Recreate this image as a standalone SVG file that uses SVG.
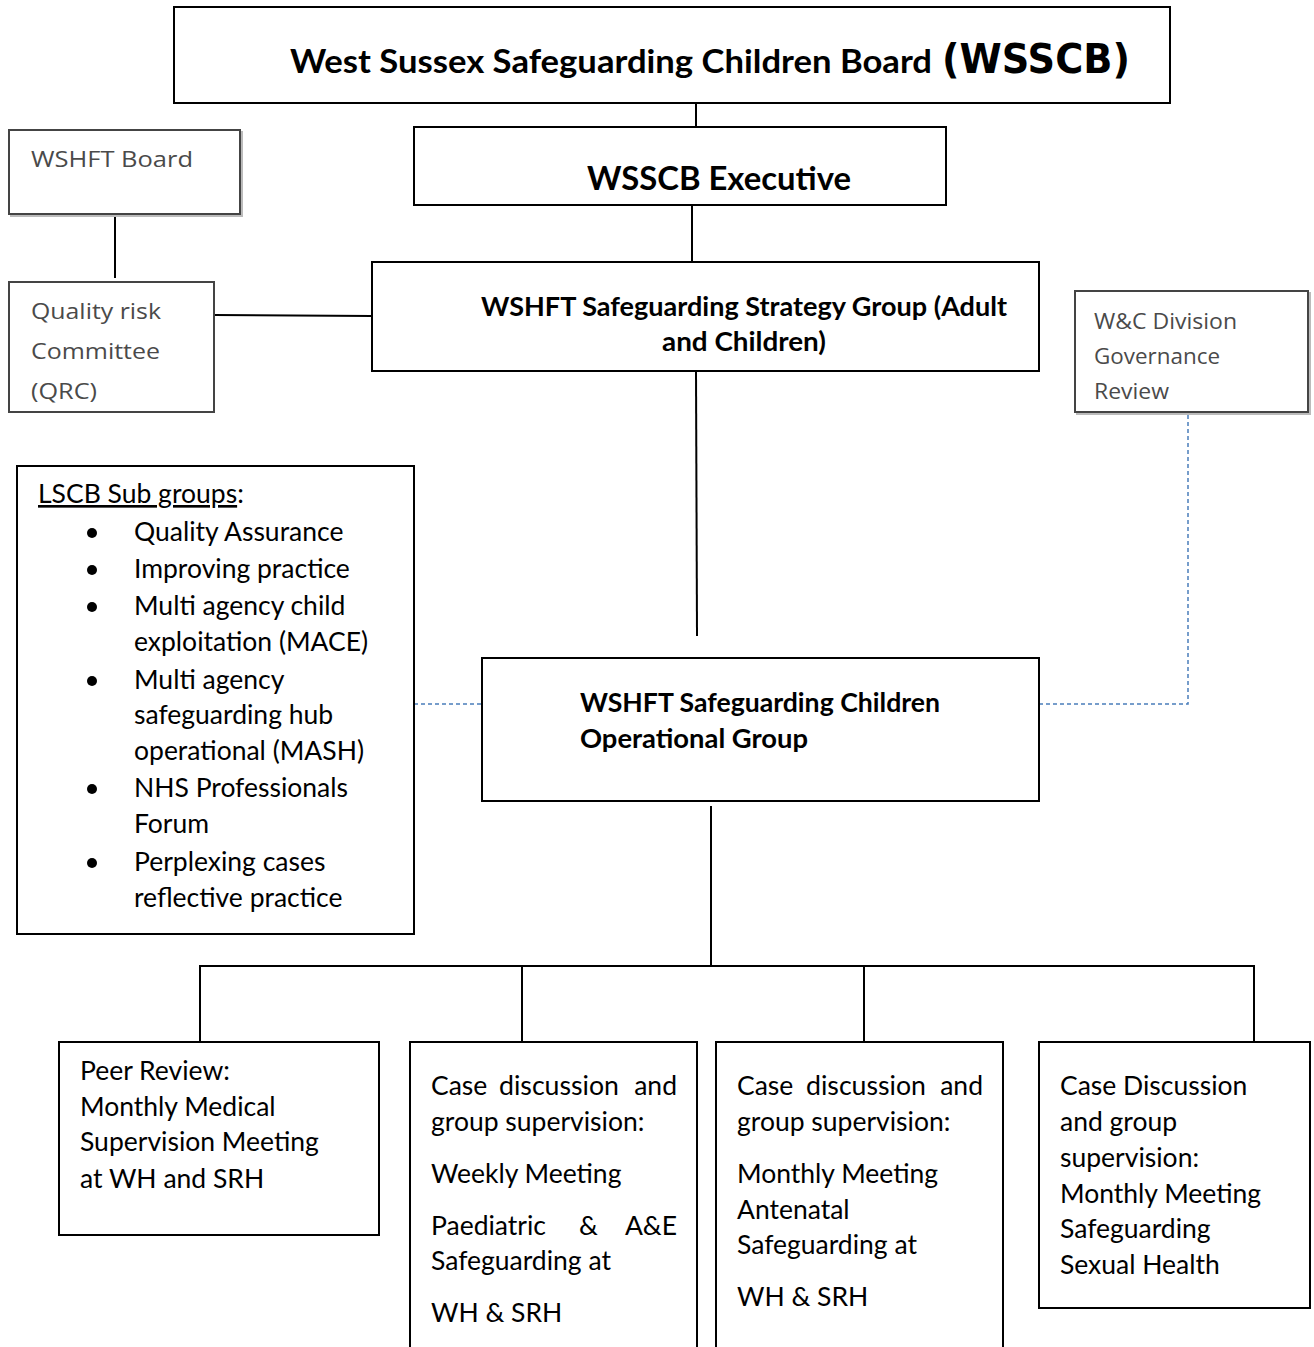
<svg xmlns="http://www.w3.org/2000/svg" width="1314" height="1347" viewBox="0 0 1314 1347">
  <style>
    .box { fill: #fff; stroke: #000; stroke-width: 2; }
    .gbox { fill: #fff; stroke: #444; stroke-width: 2; }
    .shadow { fill: none; stroke: #bbb; stroke-width: 2; }
    .line { stroke: #000; stroke-width: 2; fill: none; }
    .dash { stroke: #4a7ebb; stroke-width: 1.5; fill: none; stroke-dasharray: 4 3; }
    .t { font-family: Lato, "Open Sans", "Liberation Sans", sans-serif; font-size: 26.5px; fill: #000; }
    .b { font-family: Lato, "Open Sans", "Liberation Sans", sans-serif; font-weight: bold; fill: #000; }
    .g { font-family: "Open Sans", "Noto Sans", "Liberation Sans", sans-serif; font-size: 22px; fill: #4a4a4a; }
  </style>

  <!-- connectors -->
  <g id="connectors">
    <line class="line" x1="696" y1="88" x2="696" y2="128"/>
    <line class="line" x1="692" y1="205" x2="692" y2="264"/>
    <line class="line" x1="115" y1="217" x2="115" y2="278"/>
    <line class="line" x1="214" y1="315" x2="372" y2="316"/>
    <line class="line" x1="696" y1="371" x2="697" y2="636"/>
    <line class="line" x1="711" y1="806" x2="711" y2="966"/>
    <polyline class="line" points="200,1042 200,966 1254,966 1254,1042"/>
    <line class="line" x1="522" y1="966" x2="522" y2="1042"/>
    <line class="line" x1="864" y1="966" x2="864" y2="1042"/>
    <line class="dash" x1="414" y1="704" x2="482" y2="704"/>
    <polyline class="dash" points="1188,415 1188,704 1040,704"/>
  </g>

  <!-- top board -->
  <g id="wsscb">
    <rect class="box" x="174" y="7" width="996" height="96"/>
    <text class="b" x="290" y="73" font-size="32" textLength="642" lengthAdjust="spacingAndGlyphs">West Sussex Safeguarding Children Board</text>
    <text x="942" y="73" font-family="'DejaVu Sans', Verdana, sans-serif" font-weight="bold" font-size="40" textLength="188" lengthAdjust="spacingAndGlyphs">(WSSCB)</text>
  </g>

  <g id="executive">
    <rect class="box" x="414" y="127" width="532" height="78"/>
    <text class="b" x="587" y="190" font-size="32" textLength="264" lengthAdjust="spacingAndGlyphs">WSSCB Executive</text>
  </g>

  <g id="strategy-group">
    <rect class="box" x="372" y="262" width="667" height="109"/>
    <text class="b" x="481" y="316" font-size="26" textLength="526" lengthAdjust="spacingAndGlyphs">WSHFT Safeguarding Strategy Group (Adult</text>
    <text class="b" x="662" y="351" font-size="26" textLength="164" lengthAdjust="spacingAndGlyphs">and Children)</text>
  </g>

  <g id="wshft-board">
    <rect class="shadow" x="11" y="132" width="231" height="84"/>
    <rect class="gbox" x="9" y="130" width="231" height="84"/>
    <text class="g" x="31" y="167" textLength="162" lengthAdjust="spacingAndGlyphs">WSHFT Board</text>
  </g>

  <g id="qrc">
    <rect class="gbox" x="9" y="282" width="205" height="130"/>
    <text class="g" x="31" y="319" textLength="130" lengthAdjust="spacingAndGlyphs">Quality risk</text>
    <text class="g" x="31" y="359" textLength="129" lengthAdjust="spacingAndGlyphs">Committee</text>
    <text class="g" x="31" y="399" textLength="66" lengthAdjust="spacingAndGlyphs">(QRC)</text>
  </g>

  <g id="wc-division">
    <rect class="shadow" x="1077" y="293" width="233" height="121"/>
    <rect class="gbox" x="1075" y="291" width="233" height="121"/>
    <text class="g" x="1094" y="329" textLength="143" lengthAdjust="spacingAndGlyphs">W&amp;C Division</text>
    <text class="g" x="1094" y="364" textLength="126" lengthAdjust="spacingAndGlyphs">Governance</text>
    <text class="g" x="1094" y="399" textLength="75" lengthAdjust="spacingAndGlyphs">Review</text>
  </g>

  <g id="lscb-subgroups">
    <rect class="box" x="17" y="466" width="397" height="468"/>
    <text class="t" x="38" y="503"><tspan text-decoration="underline">LSCB Sub groups</tspan>:</text>
    <g fill="#000">
      <circle cx="92" cy="533" r="5"/>
      <circle cx="92" cy="570" r="5"/>
      <circle cx="92" cy="607" r="5"/>
      <circle cx="92" cy="681" r="5"/>
      <circle cx="92" cy="789" r="5"/>
      <circle cx="92" cy="863" r="5"/>
    </g>
    <text class="t" x="134" y="541">Quality Assurance</text>
    <text class="t" x="134" y="578">Improving practice</text>
    <text class="t" x="134" y="615">Multi agency child</text>
    <text class="t" x="134" y="651">exploitation (MACE)</text>
    <text class="t" x="134" y="689">Multi agency</text>
    <text class="t" x="134" y="724">safeguarding hub</text>
    <text class="t" x="134" y="760">operational (MASH)</text>
    <text class="t" x="134" y="797">NHS Professionals</text>
    <text class="t" x="134" y="833">Forum</text>
    <text class="t" x="134" y="871">Perplexing cases</text>
    <text class="t" x="134" y="907">reflective practice</text>
  </g>

  <g id="operational-group">
    <rect class="box" x="482" y="658" width="557" height="143"/>
    <text class="b" x="580" y="712" font-size="26" textLength="360" lengthAdjust="spacingAndGlyphs">WSHFT Safeguarding Children</text>
    <text class="b" x="580" y="748" font-size="26" textLength="228" lengthAdjust="spacingAndGlyphs">Operational Group</text>
  </g>

  <g id="peer-review">
    <rect class="box" x="59" y="1042" width="320" height="193"/>
    <text class="t" x="80" y="1080">Peer Review:</text>
    <text class="t" x="80" y="1116">Monthly Medical</text>
    <text class="t" x="80" y="1151">Supervision Meeting</text>
    <text class="t" x="80" y="1188">at WH and SRH</text>
  </g>

  <!-- justified lines are set word by word -->
  <g id="case-weekly">
    <path class="line" d="M410,1347 V1042 H697 V1347"/>
    <text class="t" x="431" y="1095">Case</text>
    <text class="t" x="499" y="1095" textLength="120" lengthAdjust="spacingAndGlyphs">discussion</text>
    <text class="t" x="677" y="1095" text-anchor="end">and</text>
    <text class="t" x="431" y="1131">group supervision:</text>
    <text class="t" x="431" y="1183">Weekly Meeting</text>
    <text class="t" x="431" y="1235">Paediatric</text>
    <text class="t" x="579" y="1235">&amp;</text>
    <text class="t" x="677" y="1235" text-anchor="end">A&amp;E</text>
    <text class="t" x="431" y="1270">Safeguarding at</text>
    <text class="t" x="431" y="1322">WH &amp; SRH</text>
  </g>

  <g id="case-antenatal">
    <path class="line" d="M716,1347 V1042 H1003 V1347"/>
    <text class="t" x="737" y="1095">Case</text>
    <text class="t" x="806" y="1095" textLength="120" lengthAdjust="spacingAndGlyphs">discussion</text>
    <text class="t" x="983" y="1095" text-anchor="end">and</text>
    <text class="t" x="737" y="1131">group supervision:</text>
    <text class="t" x="737" y="1183">Monthly Meeting</text>
    <text class="t" x="737" y="1219">Antenatal</text>
    <text class="t" x="737" y="1254">Safeguarding at</text>
    <text class="t" x="737" y="1306">WH &amp; SRH</text>
  </g>

  <g id="case-sexual-health">
    <rect class="box" x="1039" y="1042" width="271" height="266"/>
    <text class="t" x="1060" y="1095">Case Discussion</text>
    <text class="t" x="1060" y="1131">and group</text>
    <text class="t" x="1060" y="1167">supervision:</text>
    <text class="t" x="1060" y="1203">Monthly Meeting</text>
    <text class="t" x="1060" y="1238">Safeguarding</text>
    <text class="t" x="1060" y="1274">Sexual Health</text>
  </g>
</svg>
